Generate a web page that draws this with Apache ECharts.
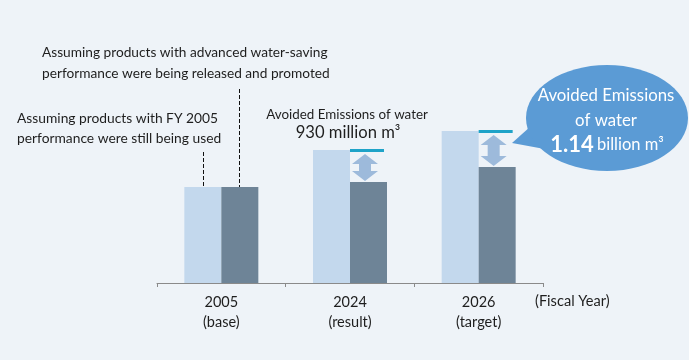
<!DOCTYPE html>
<html><head><meta charset="utf-8">
<script src="https://cdn.jsdelivr.net/npm/echarts@6/dist/echarts.min.js"></script>
<style>html,body{margin:0;padding:0;background:#EEF3F8;}#c{width:689px;height:360px;}</style>
</head><body><div id="c"></div>
<script>
// Data (index, FY2005 = 100)
const years = ['2005', '2024', '2026'];
const yearNotes = ['(base)', '(result)', '(target)'];
const withoutSaving = [100, 138.5, 158.3];   // products with FY2005 performance still used
const withSaving = [100, 105.2, 120.8];      // advanced water-saving products promoted
const avoidedLabels = ['', '930 million m³', '1.14 billion m³'];

const FONT = 'Lato, "Open Sans", sans-serif';
const chart = echarts.init(document.getElementById('c'), null, {renderer: 'canvas'});

const gapData = [];
for (let i = 1; i < years.length; i++) gapData.push([i, withoutSaving[i], withSaving[i]]);

function renderGap(params, api) {
  const idx = api.value(0);
  const top = api.coord([idx, api.value(1)]);
  const bot = api.coord([idx, api.value(2)]);
  const cx = top[0];
  const ax = cx + 15;
  const y1 = top[1] + 4, y2 = bot[1] - 1;
  const hw = 13, hh = 10, sw = 6;
  return {
    type: 'group',
    children: [
      {type: 'rect', shape: {x: cx, y: top[1] - 1, width: 34, height: 3}, style: {fill: '#1FA3C8'}},
      {type: 'polygon', shape: {points: [
        [ax, y1], [ax + hw, y1 + hh], [ax + sw, y1 + hh], [ax + sw, y2 - hh], [ax + hw, y2 - hh],
        [ax, y2], [ax - hw, y2 - hh], [ax - sw, y2 - hh], [ax - sw, y1 + hh], [ax - hw, y1 + hh]
      ]}, style: {fill: '#9DBADB'}}
    ]
  };
}

const option = {
  backgroundColor: '#EEF3F8',
  animation: false,
  textStyle: {fontFamily: FONT},
  grid: {left: 157, right: 146, top: 91, bottom: 77},
  xAxis: {
    type: 'category',
    data: years.map((y, i) => y + '\n' + yearNotes[i]),
    axisLine: {lineStyle: {color: '#8A8A8A', width: 1}},
    axisTick: {show: true, length: 4, lineStyle: {color: '#8A8A8A'}},
    axisLabel: {color: '#1E1E1E', fontSize: 14.5, lineHeight: 20, margin: 9, fontFamily: FONT}
  },
  yAxis: {type: 'value', min: 0, max: 200, show: false, splitLine: {show: false}},
  series: [
    {type: 'bar', data: withoutSaving, barWidth: 37, barGap: '0%', itemStyle: {color: '#C3D8ED'}},
    {type: 'bar', data: withSaving, barWidth: 37, barGap: '0%', itemStyle: {color: '#6E8497'}},
    {type: 'custom', data: gapData, renderItem: renderGap, z: 5}
  ],
  graphic: [
    {type: 'text', left: 42, top: 42, style: {text: 'Assuming products with advanced water-saving\nperformance were being released and promoted', font: '13.7px ' + FONT, fill: '#1E1E1E', lineHeight: 21}},
    {type: 'text', left: 17, top: 109, style: {text: 'Assuming products with FY 2005\nperformance were still being used', font: '13.8px ' + FONT, fill: '#1E1E1E', lineHeight: 20}},
    {type: 'line', shape: {x1: 203.5, y1: 152, x2: 203.5, y2: 202}, style: {stroke: '#111', lineWidth: 1, lineDash: [4, 2]}},
    {type: 'line', shape: {x1: 239.5, y1: 89, x2: 239.5, y2: 205}, style: {stroke: '#111', lineWidth: 1, lineDash: [4, 2]}},
    {type: 'text', x: 347, y: 115, style: {text: 'Avoided Emissions of water', font: '13.4px ' + FONT, fill: '#1E1E1E', align: 'center', verticalAlign: 'middle'}},
    {type: 'text', x: 348, y: 133, style: {text: avoidedLabels[1], font: '16.6px ' + FONT, fill: '#1E1E1E', align: 'center', verticalAlign: 'middle'}},
    {type: 'text', x: 535, y: 301, style: {text: '(Fiscal Year)', font: '14.6px ' + FONT, fill: '#1E1E1E', verticalAlign: 'middle'}},
    {type: 'polygon', shape: {points: [[512, 143], [540, 118], [550, 150]]}, style: {fill: '#5B9BD5'}},
    {type: 'ellipse', shape: {cx: 607, cy: 118, rx: 81, ry: 53}, style: {fill: '#5B9BD5'}},
    {type: 'text', x: 606, y: 96, style: {text: 'Avoided Emissions', font: '16.8px ' + FONT, fill: '#fff', align: 'center', verticalAlign: 'middle'}},
    {type: 'text', x: 606, y: 121, style: {text: 'of water', font: '16.8px ' + FONT, fill: '#fff', align: 'center', verticalAlign: 'middle'}},
    {type: 'text', x: 607, y: 145, style: {
      text: '{b|1.14} {s|billion m³}', align: 'center', verticalAlign: 'middle',
      rich: {b: {fontSize: 22, fontWeight: 'bold', fill: '#fff', color: '#fff', fontFamily: FONT},
             s: {fontSize: 16.5, fill: '#fff', color: '#fff', fontFamily: FONT}}
    }}
  ]
};
chart.setOption(option);
</script></body></html>
